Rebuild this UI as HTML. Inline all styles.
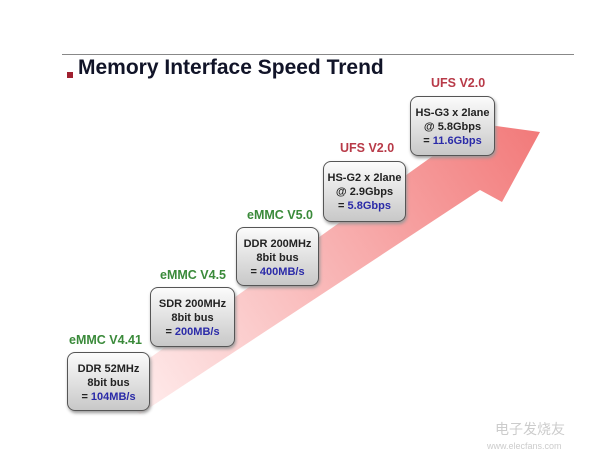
<!DOCTYPE html>
<html><head><meta charset="utf-8"><style>
body{margin:0;width:600px;height:463px;background:#fff;position:relative;overflow:hidden;font-family:"Liberation Sans",Arial,sans-serif}
.box{position:absolute;border:1.5px solid #555;border-radius:8px;background:linear-gradient(#fbfbfb,#c8c8c8);box-shadow:1px 2px 3px #999;text-align:center;font-weight:bold;font-size:11px;line-height:14px;color:#222;box-sizing:border-box;padding-top:9px}
.box b{color:#2a2aa8}
.lbl{position:absolute;font-weight:bold;font-size:12.5px}
.g{color:#3a8a3a}.r{color:#b83a48}
</style></head><body>
<div style="position:absolute;left:62px;top:54px;width:512px;height:1px;background:#888"></div>
<div style="position:absolute;left:67px;top:72px;width:6px;height:6px;background:#a02030"></div>
<div style="position:absolute;left:78px;top:56px;font-size:21px;font-weight:bold;color:#111428">Memory Interface Speed Trend</div>
<svg width="600" height="463" style="position:absolute;left:0;top:0">
<defs><linearGradient id="a" x1="120" y1="410" x2="540" y2="133" gradientUnits="userSpaceOnUse"><stop offset="0" stop-color="#fff0f0"/><stop offset="1" stop-color="#f27a7a"/></linearGradient></defs>
<polygon points="140,414 480,190 502,202 540,132 438,118 458,138 105,390" fill="url(#a)"/>
<text x="495" y="434" font-size="14" fill="#ccc" font-family="Noto Sans CJK SC">电子发烧友</text>
<text x="487" y="449" font-size="9" fill="#ccc">www.elecfans.com</text>
</svg>
<div class="lbl g" style="left:69px;top:333px">eMMC V4.41</div>
<div class="box" style="left:67px;top:352px;width:83px;height:59px">DDR 52MHz<br>8bit bus<br>= <b>104MB/s</b></div>
<div class="lbl g" style="left:160px;top:268px">eMMC V4.5</div>
<div class="box" style="left:150px;top:287px;width:85px;height:60px">SDR 200MHz<br>8bit bus<br>= <b>200MB/s</b></div>
<div class="lbl g" style="left:247px;top:208px">eMMC V5.0</div>
<div class="box" style="left:236px;top:227px;width:83px;height:59px">DDR 200MHz<br>8bit bus<br>= <b>400MB/s</b></div>
<div class="lbl r" style="left:340px;top:141px">UFS V2.0</div>
<div class="box" style="left:323px;top:161px;width:83px;height:61px">HS-G2 x 2lane<br>@ 2.9Gbps<br>= <b>5.8Gbps</b></div>
<div class="lbl r" style="left:431px;top:76px">UFS V2.0</div>
<div class="box" style="left:410px;top:96px;width:85px;height:60px">HS-G3 x 2lane<br>@ 5.8Gbps<br>= <b>11.6Gbps</b></div>
</body></html>
